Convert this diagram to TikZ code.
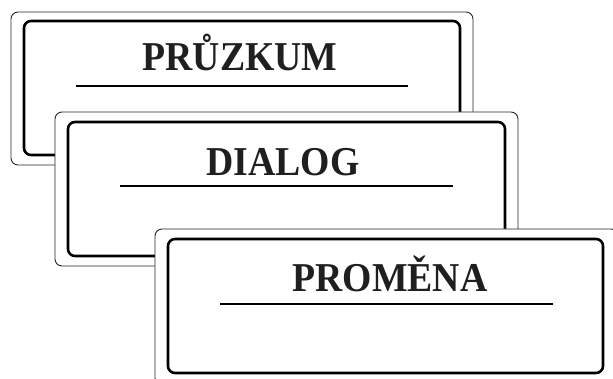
\documentclass[tikz,border=0pt]{standalone}
\usepackage{fontspec}
\setmainfont{Liberation Serif}
\newcommand{\kartafont}{\fontsize{41}{41}\selectfont\bfseries}
\begin{document}
\begin{tikzpicture}[x=1pt,y=-1pt,
    outerbox/.style={draw=black!85,line width=0.9pt,rounded corners=7pt,fill=white},
    innerbox/.style={draw=black,line width=2.6pt,rounded corners=7pt},
    underline/.style={draw=black,line width=2.2pt},
    titel/.style={anchor=base,inner sep=0pt,font=\kartafont,text=black!88,xscale=0.92,transform shape}]
      \useasboundingbox (0,0) rectangle (613,379);
      \clip (0,0) rectangle (613,379);
      % karta 1
      \draw[outerbox] (11,12) rectangle (473,165);
      \draw[innerbox] (24,21) rectangle (460,155);
      \node[titel] (pruzkum) at (240,71) {PRŮZKUM};
      \draw[underline] (76,86) -- (408,86);
      % karta 2
      \draw[outerbox] (55,112) rectangle (518,266);
      \draw[innerbox] (68,122) rectangle (505,256);
      \node[titel] (dialog) at (283,176) {DIALOG};
      \draw[underline] (120,186) -- (453,186);
      % karta 3
      \draw[outerbox] (155,229) rectangle (618,385);
      \draw[innerbox] (168,239) rectangle (603,373);
      \node[titel] (promena) at (390,292) {PROMĚNA};
      \draw[underline] (220,304) -- (553,304);
\end{tikzpicture}
\end{document}
